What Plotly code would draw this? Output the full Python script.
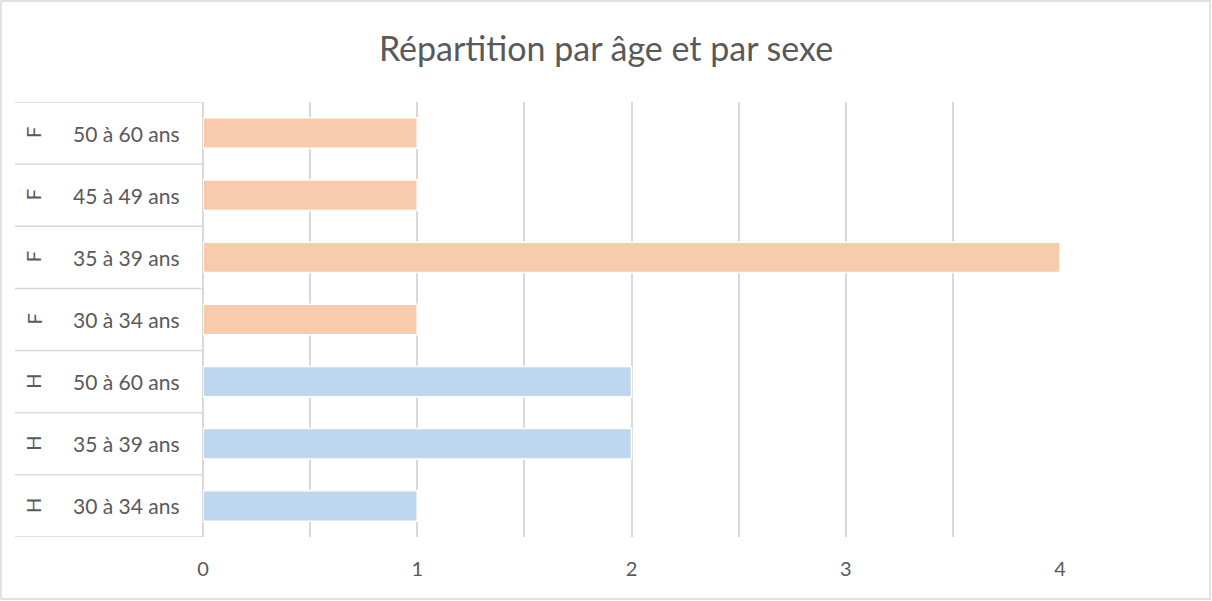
import plotly.graph_objects as go

sexes = ["H", "H", "H", "F", "F", "F", "F"]
ages = ["30 à 34 ans", "35 à 39 ans", "50 à 60 ans", "30 à 34 ans", "35 à 39 ans", "45 à 49 ans", "50 à 60 ans"]
counts = [1, 2, 2, 1, 4, 1, 1]
colors = {"H": "#BDD7EE", "F": "#F8CBAD"}
title = "Répartition par âge et par sexe"
x_ticks = [0, 1, 2, 3, 4]

keys = [f"{s} {a}" for s, a in zip(sexes, ages)]

W, H = 1212, 601
L, R, T, B = 203, 1212 - 1060, 102, 601 - 537
pw, ph = W - L - R, H - T - B

def px_x(p):
    return (p - L) / pw

def px_y(p):
    return (H - B - p) / ph

fig = go.Figure()
for sx in ["H", "F"]:
    idx = [i for i, s in enumerate(sexes) if s == sx]
    fig.add_trace(go.Bar(
        y=[keys[i] for i in idx],
        x=[counts[i] for i in idx],
        orientation="h",
        marker=dict(color=colors[sx], line=dict(color="white", width=1.5)),
        width=0.49,
        showlegend=False,
        hoverinfo="x+y",
    ))

font_family = "Lato"
grey = "#595959"
grid = "#D9D9D9"

annotations = []
for i, (s, a) in enumerate(zip(sexes, ages)):
    annotations.append(dict(x=px_x(33), y=i, xref="paper", yref="y", text=s, textangle=-90,
                            showarrow=False, font=dict(family=font_family, size=20, color=grey),
                            xanchor="center", yanchor="middle"))
    annotations.append(dict(x=px_x(126), y=i, xref="paper", yref="y", text=a,
                            showarrow=False, font=dict(family=font_family, size=21, color=grey),
                            xanchor="center", yanchor="middle"))

shapes = []
for i in range(len(keys) + 1):
    shapes.append(dict(type="line", xref="paper", yref="y", x0=px_x(15), x1=0,
                       y0=i - 0.5, y1=i - 0.5, line=dict(color=grid, width=1.5)))
shapes.append(dict(type="rect", xref="paper", yref="paper", x0=px_x(1), x1=px_x(1210),
                   y0=px_y(599), y1=px_y(1), line=dict(color=grid, width=1.5)))

fig.update_layout(
    width=W, height=H,
    margin=dict(l=L, r=R, t=T, b=B),
    paper_bgcolor="white", plot_bgcolor="white",
    barmode="relative",
    title=dict(text=title, x=0.5, xref="container", xanchor="center", y=1 - 49 / H, yanchor="middle",
               font=dict(family=font_family, size=34, color=grey)),
    xaxis=dict(range=[0, 4], tickvals=x_ticks, ticktext=[str(v) for v in x_ticks],
               showgrid=True, gridcolor=grid, gridwidth=1.5,
               minor=dict(dtick=0.5, showgrid=True, gridcolor=grid, gridwidth=1.5),
               zeroline=True, zerolinecolor=grid, zerolinewidth=1.5,
               showline=False, ticks="", ticklabelstandoff=18,
               tickfont=dict(family=font_family, size=20, color=grey), fixedrange=True),
    yaxis=dict(categoryorder="array", categoryarray=keys, range=[-0.5, len(keys) - 0.5],
               showticklabels=False, showgrid=False, zeroline=False, showline=False, ticks=""),
    annotations=annotations,
    shapes=shapes,
)

fig.write_html("out.html", config={"displayModeBar": False},
               post_script="document.body.style.margin='0';document.body.style.padding='0';")
